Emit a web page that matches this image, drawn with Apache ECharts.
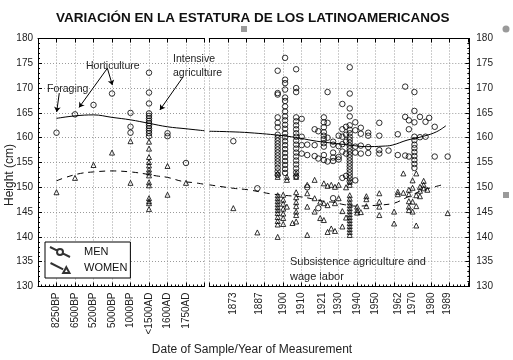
<!DOCTYPE html>
<html><head><meta charset="utf-8">
<script src="https://cdn.jsdelivr.net/npm/echarts@6/dist/echarts.min.js"></script>
<style>html,body{margin:0;padding:0;background:#fff}#c{width:513px;height:360px}</style>
</head><body><div id="c"></div>
<script>
// ---------- data ----------
const periodLabels = ['8250BP','6500BP','5200BP','5000BP','1000BP','<1500AD','1600AD','1750AD'];
const yearLabels = [1873,1887,1900,1910,1921,1930,1940,1950,1962,1970,1980,1989];

// prehistoric / colonial samples: [period, height]
const menPrehistoric = [
  ['8250BP',161.0],['6500BP',164.7],['5200BP',166.6],['5000BP',168.9],
  ['1000BP',165.0],['1000BP',162.2],['1000BP',161.0],
  ['<1500AD',173.1],['<1500AD',169.1],['<1500AD',166.9],['<1500AD',164.9],['<1500AD',164.4],
  ['<1500AD',163.9],['<1500AD',163.4],['<1500AD',162.9],['<1500AD',162.4],['<1500AD',161.9],
  ['<1500AD',161.4],['<1500AD',160.9],['<1500AD',160.3],
  ['1600AD',160.9],['1600AD',160.3],['1750AD',154.9]
];
const womenPrehistoric = [
  ['8250BP',149.0],['6500BP',151.9],['5200BP',154.5],['5000BP',157.0],
  ['1000BP',159.3],['1000BP',150.9],
  ['<1500AD',159.2],['<1500AD',157.8],['<1500AD',156.1],['<1500AD',155.1],['<1500AD',154.4],
  ['<1500AD',153.6],['<1500AD',153.0],['<1500AD',152.4],['<1500AD',151.0],['<1500AD',150.4],
  ['<1500AD',147.8],['<1500AD',147.2],['<1500AD',146.8],['<1500AD',145.6],
  ['1600AD',154.3],['1600AD',148.5],['1750AD',150.9]
];

// modern samples: [year of measurement, heights]
const menModern = [
  [1873,[159.3]],[1886,[149.8]],
  [1897,[173.5,169.0,168.7,164.1,163.0,162.1,160.6,160.0,159.4,158.8,158.2,157.6,157.0,156.4,155.8,155.2,154.6,153.9,153.2,152.5]],
  [1901,[176.1,171.7,171.0,169.7,168.1,167.4,166.3,165.3,164.3,163.5,162.6,161.8,160.9,160.1,159.3,158.5,157.7,156.9,156.1,155.3,154.5,153.7,152.9]],
  [1907,[173.8,170.0,169.2,164.1,163.3,162.5,161.7,160.9,160.2,159.4,158.6,157.8,157.0,156.2,155.4,154.6,153.8,153.0,152.2]],
  [1910,[163.8,160.2,158.5,156.8]],[1913,[158.6,156.5,150.0]],[1917,[161.7,158.5,156.3]],
  [1919,[161.3,155.8,145.8]],
  [1922,[164.1,163.1,162.1,161.1,160.4,159.7,158.9,158.2,156.5,155.5]],
  [1924,[169.2,163.0,160.0,155.2]],[1927,[159.2,158.6,157.0,156.0,155.3,147.8]],
  [1930,[160.4,158.3,156.1,155.6]],[1932,[166.8,161.7,160.2,158.7,157.2,151.9]],
  [1934,[162.2,160.6,159.2,156.8,152.3]],
  [1936,[174.2,168.9,165.9,164.3,162.5,161.6,160.9,160.2,159.6,159.0,158.4,157.8,157.2,156.6,156.0,155.4,154.8,154.2,153.6,153.0,152.4,151.8,151.2]],
  [1939,[163.1,161.5,158.2,157.0,151.4]],[1942,[162.0,160.8,158.4,156.8]],
  [1946,[161.0,160.4,158.1,156.9]],[1952,[163.0,160.4,157.5,156.8]],[1957,[157.4]],
  [1962,[160.7,156.5]],[1966,[170.3,164.2,156.4]],[1968,[163.5,161.7,156.2]],
  [1971,[169.2,165.4,163.1,160.2,159.5,158.6,157.9,157.1,156.3,155.5,154.7,153.9]],
  [1974,[164.2,160.1]],[1977,[163.2,160.2]],[1979,[164.0]],[1982,[162.2,156.2]],[1989,[156.2]]
];
const womenModern = [
  [1873,[145.8]],[1886,[140.9]],
  [1897,[152.8,152.1,148.4,147.8,147.2,146.6,146.0,145.4,144.8,144.0,143.2,142.5,140.0]],
  [1900,[148.5,147.5,146.7,145.7,144.7,143.8,142.6]],[1902,[152.1,151.5,146.1]],
  [1905,[142.8]],[1907,[152.8,152.1,149.0,148.0,147.0,146.2,145.1,144.4,143.1]],
  [1913,[150.5,148.8,146.1,140.4]],[1917,[151.5,147.8,145.1]],[1920,[147.1,143.8]],
  [1922,[150.8,146.8,143.4]],[1924,[150.3,146.4,141.0]],[1926,[150.5,141.7]],
  [1928,[150.1,146.8,141.2]],[1930,[150.5,147.8]],[1932,[145.2,142.1]],[1934,[150.0,143.9]],
  [1936,[151.1,150.5,148.4,147.7,147.0,146.4,145.8,145.2,144.6,144.0,143.4,142.8,142.2,141.6,141.0,140.4]],
  [1940,[146.1,145.4,144.9]],[1942,[145.0]],[1945,[148.2,147.6,146.2]],
  [1952,[148.8,147.1,146.1,144.4]],[1960,[145.1,142.7]],[1962,[149.1,148.6]],
  [1965,[152.8,148.9]],[1968,[149.5,148.6,147.2,146.1,145.4]],[1970,[151.4,149.9,147.1,145.1]],
  [1972,[152.8,148.4,146.2,142.3]],[1974,[150.1,149.3,148.2]],[1976,[151.3,150.5,149.8]],
  [1978,[149.5]],[1989,[144.8]]
];

// smoothed trends: prehistoric part on the period scale (1 = 8250BP ... 8 = 1750AD), modern part by year
const menTrendPrehistoric = [[1,163.9],[2,164.4],[3,164.6],[4,164.1],[5,163.6],[6,162.9],[7,162.2],[8,161.8],[9,161.4]];
const womenTrendPrehistoric = [[1,151.3],[1.5,152.0],[2.3,152.8],[3,153.1],[4,153.3],[5,153.1],[5.8,152.7],[6.4,152.3],[7,152.0],[7.8,151.2],[8.5,150.9],[9,150.6]];
const menTrendModern = [[1860,161.3],[1871,161.2],[1882,161.0],[1900,160.4],[1909,159.9],[1918,159.3],[1929,158.8],[1936,158.5],[1945,158.2],[1954,158.3],[1959,158.5],[1967,159.5],[1976,160.3],[1983,161.2],[1988,162.4]];
const womenTrendModern = [[1860,150.5],[1873,149.8],[1881,149.5],[1893,148.7],[1900,148.4],[1909,148.1],[1914,147.8],[1923,147.1],[1927,147.0],[1933,146.5],[1940,146.2],[1946,146.3],[1952,146.4],[1960,146.8],[1966,147.8],[1970,148.5],[1976,149.5],[1981,150.0],[1986,150.5]];

// annotation arrows (period scale, cm): [from, to]
const annotationArrows = [
  [[1.15,169.0],[1.01,165.2]],
  [[3.75,174.0],[2.22,166.1]],
  [[3.75,174.0],[4.02,170.6]],
  [[7.85,172.3],[6.59,165.6]]
];

// ---------- chart ----------
const FONT = '"Liberation Sans", Arial, sans-serif';
const expand = rows => rows.flatMap(([y, hs]) => hs.map(h => [y, h]));
const periodData = rows => rows.map(([p, h]) => [periodLabels.indexOf(p) + 1, h]);

const black = {color:'#000', width:1};
const dotted = {show:true, lineStyle:{type:[1,2], color:'#9a9a9a', width:1}};
const tickIn = {show:true, inside:true, length:4, lineStyle:black};
const minorIn = {show:true, splitNumber:5, length:2, lineStyle:black};
const hollow = {color:'rgba(255,255,255,0)', borderColor:'#000', borderWidth:1};

const chart = echarts.init(document.getElementById('c'), null, {renderer:'canvas'});
chart.setOption({
  animation:false,
  backgroundColor:'#fff',
  textStyle:{fontFamily:FONT},
  title:{text:'VARIACIÓN EN LA ESTATURA DE LOS LATINOAMERICANOS', left:51, top:6,
    textStyle:{fontSize:13.5, fontWeight:'bold', color:'#111', fontFamily:FONT}},
  legend:{
    left:45, top:242, orient:'vertical', itemWidth:20, itemHeight:10, itemGap:4,
    padding:[4,3,4,4], borderColor:'#000', borderWidth:1, backgroundColor:'#fff',
    textStyle:{fontSize:11, color:'#111', fontFamily:FONT, padding:[0,0,0,9]},
    selectedMode:false,
    data:[
      {name:'MEN', icon:'path://M0,0L7.3,3.65M12.7,6.35L20,10M13,5A3,3,0,1,1,7,5A3,3,0,1,1,13,5Z'},
      {name:'WOMEN', icon:'path://M0,0L12,6M15,4L18,9.5L12,9.5Z'}
    ]
  },
  grid:[
    {left:38, top:38.5, width:166.5, height:248},
    {left:209.3, top:38.5, width:260, height:248}
  ],
  xAxis:[
    {gridIndex:0, type:'value', min:0, max:9, interval:1, position:'bottom',
      axisLine:{lineStyle:black}, axisTick:tickIn, minorTick:minorIn, splitLine:dotted,
      axisLabel:{rotate:90, margin:6, fontSize:10, color:'#222', fontFamily:FONT,
        formatter:v => periodLabels[v-1] || ''}},
    {gridIndex:0, type:'value', min:0, max:9, interval:1, position:'top',
      axisLine:{lineStyle:black}, axisTick:tickIn, axisLabel:{show:false}, splitLine:{show:false}},
    {gridIndex:1, type:'value', min:1860, max:2000.7, interval:10, position:'bottom',
      axisLine:{lineStyle:black}, axisTick:tickIn, minorTick:minorIn, splitLine:dotted,
      axisLabel:{rotate:90, margin:6, fontSize:10, color:'#222', fontFamily:FONT,
        customValues:yearLabels, formatter:v => String(v)}},
    {gridIndex:1, type:'value', min:1860, max:2000.7, interval:10, position:'top',
      axisLine:{lineStyle:black}, axisTick:tickIn, axisLabel:{show:false}, splitLine:{show:false}}
  ],
  yAxis:[
    {gridIndex:0, type:'value', min:130, max:180, interval:5, position:'left',
      axisLine:{show:true, lineStyle:black}, axisTick:tickIn, minorTick:minorIn, splitLine:dotted,
      axisLabel:{margin:5, fontSize:10, color:'#222', fontFamily:FONT}},
    {gridIndex:1, type:'value', min:130, max:180, interval:5, position:'right',
      axisLine:{show:true, lineStyle:black}, axisTick:tickIn, minorTick:minorIn, splitLine:dotted,
      axisLabel:{margin:7, fontSize:10, color:'#222', fontFamily:FONT}}
  ],
  series:[
    {name:'MEN', type:'scatter', xAxisIndex:0, yAxisIndex:0, symbol:'circle', symbolSize:5.5,
      itemStyle:hollow, data:periodData(menPrehistoric)},
    {name:'WOMEN', type:'scatter', xAxisIndex:0, yAxisIndex:0, symbol:'triangle', symbolSize:5,
      itemStyle:hollow, data:periodData(womenPrehistoric)},
    {name:'MEN', type:'scatter', xAxisIndex:2, yAxisIndex:1, symbol:'circle', symbolSize:5.5,
      itemStyle:hollow, data:expand(menModern)},
    {name:'WOMEN', type:'scatter', xAxisIndex:2, yAxisIndex:1, symbol:'triangle', symbolSize:5,
      itemStyle:hollow, data:expand(womenModern)},
    {name:'men trend', type:'line', xAxisIndex:0, yAxisIndex:0, smooth:0.4, showSymbol:false,
      lineStyle:{color:'#000', width:1}, data:menTrendPrehistoric, silent:true,
      markLine:{silent:true, symbol:['none','arrow'], symbolSize:5, label:{show:false},
        lineStyle:{color:'#000', width:1, type:'solid'}, emphasis:{disabled:true},
        data:annotationArrows.map(([a,b]) => [{coord:a},{coord:b}])}},
    {name:'women trend', type:'line', xAxisIndex:0, yAxisIndex:0, smooth:0.4, showSymbol:false,
      lineStyle:{color:'#000', width:1, type:[6,5]}, data:womenTrendPrehistoric, silent:true},
    {name:'men trend', type:'line', xAxisIndex:2, yAxisIndex:1, smooth:0.4, showSymbol:false,
      lineStyle:{color:'#000', width:1}, data:menTrendModern, silent:true},
    {name:'women trend', type:'line', xAxisIndex:2, yAxisIndex:1, smooth:0.4, showSymbol:false,
      lineStyle:{color:'#000', width:1, type:[6,5]}, data:womenTrendModern, silent:true}
  ],
  graphic:[
    {type:'text', rotation:Math.PI/2, position:[10,175],
      style:{text:'Height (cm)', font:'12px '+FONT, fill:'#222', textAlign:'center', textVerticalAlign:'middle'}},
    {type:'text', position:[252,350], style:{text:'Date of Sample/Year of Measurement', font:'12px '+FONT, fill:'#222', textAlign:'center', textVerticalAlign:'middle'}},
    {type:'text', position:[47,89], style:{text:'Foraging', font:'10.5px '+FONT, fill:'#222', textVerticalAlign:'middle'}},
    {type:'text', position:[86,66], style:{text:'Horticulture', font:'10.5px '+FONT, fill:'#222', textVerticalAlign:'middle'}},
    {type:'text', position:[173,52], style:{text:'Intensive\nagriculture', font:'10.5px '+FONT, fill:'#222', lineHeight:14}},
    {type:'text', position:[290,254], style:{text:'Subsistence agriculture and\nwage labor', font:'11px '+FONT, fill:'#222', lineHeight:15}},
    {type:'rect', shape:{x:241, y:26, width:6, height:6}, style:{fill:'#9a9a9a'}},
    {type:'circle', shape:{cx:506, cy:29, r:3.5}, style:{fill:'#9a9a9a'}},
    {type:'rect', shape:{x:503, y:192, width:6, height:6}, style:{fill:'#9a9a9a'}}
  ]
});
</script></body></html>
